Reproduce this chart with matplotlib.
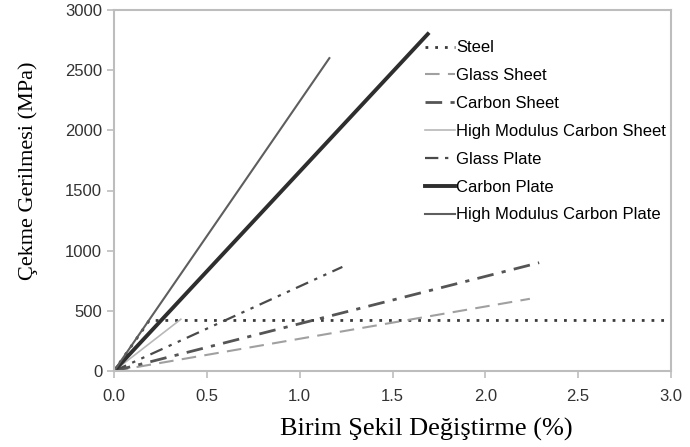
import matplotlib.pyplot as plt

# strain (%) / stress (MPa) end points
names = [
    "Steel",
    "Glass Sheet",
    "Carbon Sheet",
    "High Modulus Carbon Sheet",
    "Glass Plate",
    "Carbon Plate",
    "High Modulus Carbon Plate",
]
steel_x = [0.0, 0.19, 3.0]
steel_y = [0, 420, 420]
glass_sheet_x = [0.0, 2.24]
glass_sheet_y = [0, 600]
carbon_sheet_x = [0.0, 2.29]
carbon_sheet_y = [0, 900]
hm_carbon_sheet_x = [0.0, 0.36]
hm_carbon_sheet_y = [0, 430]
glass_plate_x = [0.0, 1.23]
glass_plate_y = [0, 865]
carbon_plate_x = [0.0, 1.69]
carbon_plate_y = [0, 2800]
hm_carbon_plate_x = [0.0, 1.16]
hm_carbon_plate_y = [0, 2600]

xticks = [0.0, 0.5, 1.0, 1.5, 2.0, 2.5, 3.0]
yticks = [0, 500, 1000, 1500, 2000, 2500, 3000]

fig = plt.figure(figsize=(6.9, 4.47), dpi=100)
ax = fig.add_axes([114 / 690, 1 - 371 / 447, 557 / 690, 361 / 447])

ax.plot(steel_x, steel_y, color="#3a3a3a", lw=2, ls=(0, (1, 2.5)), label=names[0])
ax.plot(glass_sheet_x, glass_sheet_y, color="#a0a0a0", lw=1.5, ls=(0, (7, 4)), label=names[1])
ax.plot(carbon_sheet_x, carbon_sheet_y, color="#555555", lw=2, ls=(0, (6, 3, 1.5, 3)), label=names[2])
ax.plot(hm_carbon_sheet_x, hm_carbon_sheet_y, color="#b8b8b8", lw=1.2, label=names[3])
ax.plot(glass_plate_x, glass_plate_y, color="#4a4a4a", lw=1.6, ls=(0, (6, 3, 1.5, 3, 1.5, 3)), label=names[4])
ax.plot(carbon_plate_x, carbon_plate_y, color="#2e2e2e", lw=2.8, label=names[5])
ax.plot(hm_carbon_plate_x, hm_carbon_plate_y, color="#5e5e5e", lw=1.5, label=names[6])

ax.set_xlim(0, 3.0)
ax.set_ylim(0, 3000)
ax.set_xticks(xticks)
ax.set_xticklabels([f"{v:.1f}" for v in xticks])
ax.set_yticks(yticks)

for s in ax.spines.values():
    s.set_color("#bdbdbd")
    s.set_linewidth(1.5)
ax.tick_params(colors="#bdbdbd", labelcolor="#333333", length=5, width=1.2,
               labelsize=12, labelfontfamily="Liberation Sans")
ax.tick_params(axis="x", pad=8)

ax.set_xlabel("Birim Şekil Değiştirme (%)", family="Liberation Serif", fontsize=19)
ax.set_ylabel("Çekme Gerilmesi (MPa)", family="Liberation Serif", fontsize=16)
ax.xaxis.label.set_va("center")
ax.yaxis.label.set_va("center")
ax.yaxis.set_label_coords(-0.154, 0.554)
ax.xaxis.set_label_coords(0.56, -0.163)

ax.legend(loc="upper left", bbox_to_anchor=(0.546, 0.934), frameon=False,
          prop={"family": "Liberation Sans", "size": 12}, handlelength=1.8,
          handletextpad=0.1, labelspacing=0.77, borderaxespad=0)

fig.savefig("out.png", dpi=100)
